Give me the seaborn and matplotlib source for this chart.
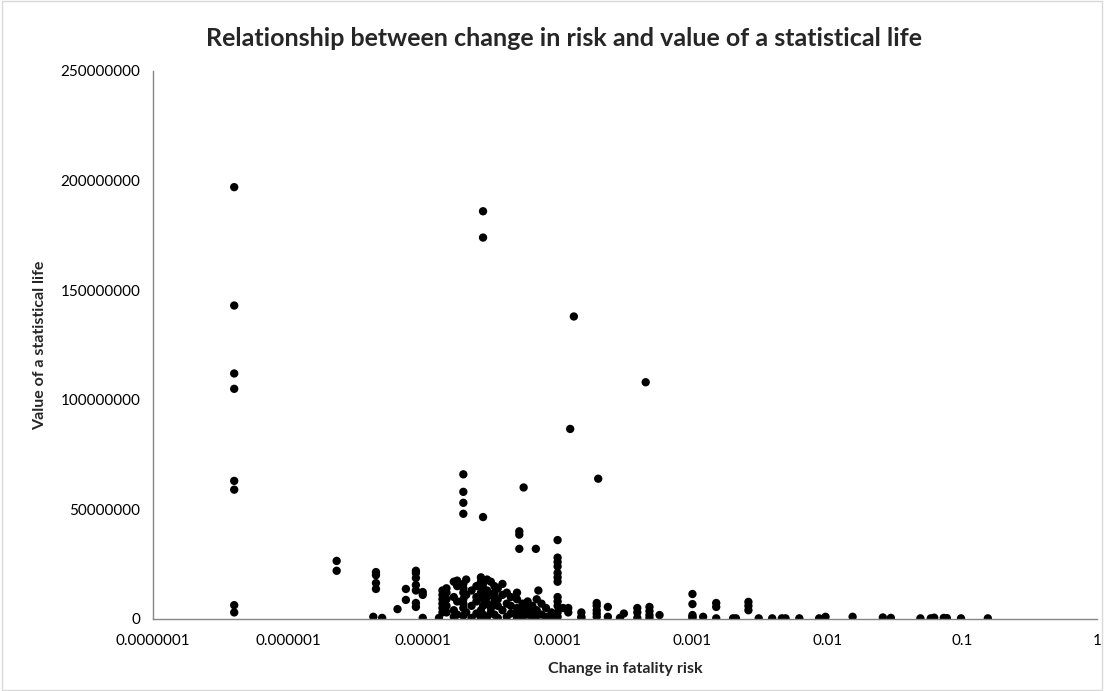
import matplotlib
matplotlib.use("Agg")
import matplotlib.pyplot as plt
import pandas as pd
import seaborn as sns
from matplotlib.patches import Rectangle

# change in fatality risk and value of a statistical life, read column by column
risk = (
    [4e-7] * 8
    + [2.3e-6] * 2
    + [4.5e-6] * 4
    + [4.3e-6, 5e-6, 6.5e-6, 7.5e-6, 7.5e-6]
    + [8.9e-6] * 7
    + [1e-5] * 3
    + [1.32e-5]
    + [1.4e-5] * 6
    + [2e-5] * 4
    + [2.8e-5] * 3
    + [5.2e-5] * 3
    + [6.9e-5, 5.6e-5]
    + [1e-4] * 12
    + [7.2e-5, 1.32e-4, 1.24e-4, 4.5e-4, 2e-4]
    # dense cluster between 1e-5 and 1e-4
    + [1.5e-5] * 5 + [1.7e-5] * 4 + [1.8e-5] * 4 + [2e-5] * 7
    + [2.1e-5] * 3 + [2.3e-5] * 3 + [2.5e-5] * 4 + [2.7e-5] * 5
    + [2.8e-5] * 5 + [3e-5] * 5 + [3.2e-5] * 4 + [3.4e-5] * 4
    + [3.6e-5] * 4 + [3.9e-5] * 3 + [4.2e-5] * 3 + [4.5e-5] * 3
    + [5e-5] * 5 + [5.5e-5] * 3 + [6e-5] * 3 + [6.5e-5] * 3
    + [7e-5] * 3 + [7.6e-5] * 2 + [8.2e-5] * 2 + [9e-5] * 2
    # above 1e-4
    + [1.1e-4, 1.2e-4, 1.2e-4, 1.5e-4, 1.5e-4, 1.5e-4]
    + [1.95e-4] * 5 + [2.36e-4] * 2 + [2.9e-4, 3.1e-4]
    + [3.9e-4] * 3 + [4.8e-4] * 4 + [5.7e-4]
    + [1e-3] * 5 + [1.2e-3] + [1.5e-3] * 3 + [2e-3, 2.1e-3]
    + [2.6e-3] * 3 + [3.1e-3, 3.9e-3, 4.6e-3, 4.9e-3, 6.2e-3, 8.7e-3, 0.0097]
    + [0.0154, 0.0258, 0.0296, 0.049, 0.0585, 0.062, 0.073, 0.077, 0.098, 0.155]
)

vsl = (
    [197e6, 143e6, 112e6, 105e6, 63e6, 59e6, 6.3e6, 3e6]
    + [26.5e6, 22e6]
    + [21.4e6, 20e6, 16.4e6, 13.7e6]
    + [1e6, 0.5e6, 4.5e6, 13.7e6, 8.7e6]
    + [22e6, 21e6, 18.7e6, 15.5e6, 13e6, 7.3e6, 5.5e6]
    + [12.3e6, 11e6, 0.5e6]
    + [0.5e6]
    + [13e6, 11e6, 9e6, 7e6, 5e6, 3e6]
    + [66e6, 58e6, 53e6, 48e6]
    + [186e6, 174e6, 46.5e6]
    + [40e6, 38.5e6, 32e6]
    + [32e6, 60e6]
    + [36e6, 28e6, 26e6, 24e6, 21e6, 19e6, 17e6, 10e6, 8e6, 6e6, 3e6, 1e6]
    + [13e6, 138e6, 86.7e6, 108e6, 64e6]
    # dense cluster
    + [14e6, 12e6, 9e6, 6e6, 3e6]
    + [17e6, 10e6, 4e6, 1e6]
    + [17.5e6, 15e6, 8e6, 2e6]
    + [16e6, 14e6, 12e6, 9e6, 7e6, 5e6, 1.5e6]
    + [18e6, 11e6, 3e6]
    + [13e6, 6e6, 0.5e6]
    + [15e6, 10e6, 8e6, 2.5e6]
    + [19e6, 17e6, 12e6, 4e6, 0.5e6]
    + [16e6, 14e6, 9e6, 6e6, 2e6]
    + [18e6, 13e6, 10e6, 7e6, 1e6]
    + [17e6, 11e6, 5e6, 3e6]
    + [15e6, 12e6, 8e6, 2e6]
    + [14e6, 9e6, 6e6, 0.5e6]
    + [16e6, 11e6, 4e6]
    + [12e6, 7e6, 1e6]
    + [10e6, 6e6, 2.5e6]
    + [12e6, 9e6, 5e6, 3e6, 0.5e6]
    + [7e6, 4e6, 1e6]
    + [8e6, 5e6, 2e6]
    + [6e6, 3e6, 0.5e6]
    + [9e6, 4e6, 1.5e6]
    + [7e6, 2e6]
    + [5e6, 1e6]
    + [3e6, 0.5e6]
    # above 1e-4
    + [5e6, 5e6, 3e6, 1e6, 0.5e6, 3e6]
    + [7.3e6, 6e6, 4e6, 2.5e6, 1e6]
    + [5.5e6, 1e6]
    + [0.5e6, 2.5e6]
    + [5e6, 3e6, 0.5e6]
    + [5.5e6, 3.6e6, 1.8e6, 0.5e6]
    + [1.8e6]
    + [11.4e6, 6.8e6, 1.8e6, 0.5e6, 1e6]
    + [1e6]
    + [7.3e6, 5.5e6, 0.3e6]
    + [0.3e6, 0.3e6]
    + [7.8e6, 6e6, 4e6]
    + [0.3e6, 0.3e6, 0.3e6, 0.3e6, 0.3e6, 0.3e6, 1e6]
    + [1e6, 0.7e6, 0.5e6, 0.3e6, 0.3e6, 0.6e6, 0.5e6, 0.4e6, 0.3e6, 0.3e6]
)

x_ticks = [1e-7, 1e-6, 1e-5, 1e-4, 1e-3, 1e-2, 1e-1, 1]
x_tick_labels = ["0.0000001", "0.000001", "0.00001", "0.0001", "0.001", "0.01", "0.1", "1"]
y_ticks = [0, 50000000, 100000000, 150000000, 200000000, 250000000]
y_tick_labels = ["0", "50000000", "100000000", "150000000", "200000000", "250000000"]


def plot_vsl():
    df = pd.DataFrame({"risk": risk, "vsl": vsl})

    sns.set_style("white")
    plt.rcParams["font.family"] = ["Lato", "DejaVu Sans"]

    fig = plt.figure(figsize=(11.04, 6.91), dpi=100)
    ax = fig.add_axes([0.1386, 0.1042, 0.8551, 0.7931])

    sns.scatterplot(x="risk", y="vsl", data=df, ax=ax, color="black",
                    s=36, edgecolor="none", legend=False)

    ax.set_xscale("log")
    ax.set_xlim(1e-7, 1)
    ax.set_ylim(0, 250000000)
    ax.set_xticks(x_ticks)
    ax.set_xticklabels(x_tick_labels)
    ax.set_yticks(y_ticks)
    ax.set_yticklabels(y_tick_labels)
    ax.minorticks_off()

    for side in ["top", "right"]:
        ax.spines[side].set_visible(False)
    for side in ["left", "bottom"]:
        ax.spines[side].set_color("#868686")
        ax.spines[side].set_linewidth(1.0)
    ax.tick_params(axis="both", direction="out", length=5, width=1.0,
                   color="#868686", labelsize=11, labelcolor="black", pad=4)
    ax.tick_params(axis="x", pad=6)

    ax.set_xlabel("Change in fatality risk", fontsize=11.5, fontweight="bold", labelpad=10)
    ax.set_ylabel("Value of a statistical life", fontsize=11.5, fontweight="bold", labelpad=10)

    fig.text(0.511, 0.945, "Relationship between change in risk and value of a statistical life",
             ha="center", va="center", fontsize=18, fontweight="bold")

    # chart area border like the spreadsheet export
    fig.patches.append(Rectangle((0.002, 0.002), 0.996, 0.996, transform=fig.transFigure,
                                 fill=False, edgecolor="#D9D9D9", linewidth=1))

    fig.savefig("out.png", dpi=100)


if __name__ == "__main__":
    plot_vsl()
